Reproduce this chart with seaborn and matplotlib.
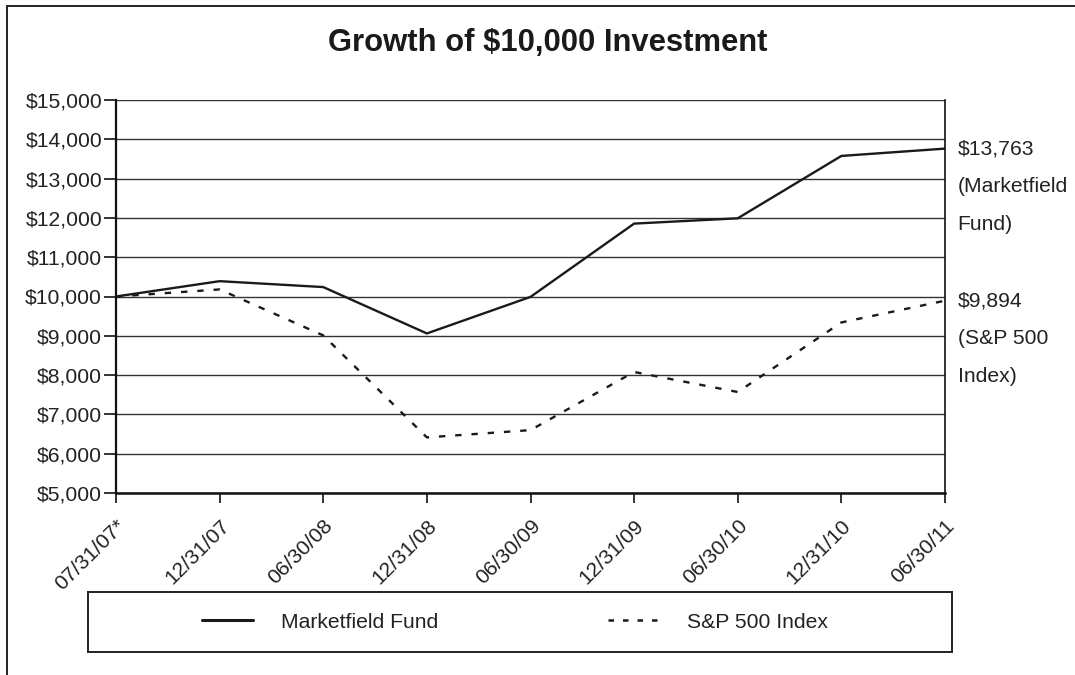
import matplotlib
matplotlib.use("Agg")
import matplotlib.pyplot as plt
from matplotlib.patches import Rectangle
from matplotlib.lines import Line2D
import seaborn as sns
import pandas as pd

dates = ["07/31/07*", "12/31/07", "06/30/08", "12/31/08", "06/30/09",
         "12/31/09", "06/30/10", "12/31/10", "06/30/11"]
fund = [10000, 10390, 10240, 9060, 9990, 11855, 11990, 13577, 13763]
sp500 = [10000, 10180, 9010, 6415, 6600, 8080, 7570, 9340, 9894]
series_names = ["Marketfield Fund", "S&P 500 Index"]
yticks = list(range(5000, 15001, 1000))
end_labels = [["$13,763", "(Marketfield", "Fund)"], ["$9,894", "(S&P 500", "Index)"]]

df = pd.DataFrame({
    "date": dates * 2,
    "value": fund + sp500,
    "series": [series_names[0]] * len(dates) + [series_names[1]] * len(dates),
})

sns.set_theme(style="white")
plt.rcParams["font.family"] = ["Liberation Sans", "DejaVu Sans"]

W, H = 1075, 675
FS = 15.2
fig = plt.figure(figsize=(W / 100, H / 100), dpi=100)
ax = fig.add_axes([116 / W, 1 - 493 / H, (945 - 116) / W, (493 - 100) / H])

sns.lineplot(data=df, x="date", y="value", hue="series", style="series",
             palette={series_names[0]: "#1a1a1a", series_names[1]: "#1a1a1a"},
             dashes={series_names[0]: "", series_names[1]: (2.7, 4.2)},
             linewidth=1.7, sort=False, ax=ax, legend=False)

ax.set_xlim(0, len(dates) - 1)
ax.set_ylim(5000, 15000)
ax.set_yticks(yticks)
ax.set_yticklabels([f"${v:,}" for v in yticks], fontsize=FS, color="#222222")
ax.set_xticks(range(len(dates)))
ax.set_xticklabels(dates, rotation=45, ha="right", rotation_mode="anchor",
                   fontsize=FS, color="#222222")
ax.set_xlabel("")
ax.set_ylabel("")
ax.yaxis.grid(True, color="#333333", linewidth=1.0)
ax.xaxis.grid(False)
ax.set_axisbelow(True)
for s in ["left", "bottom", "right"]:
    ax.spines[s].set_visible(True)
    ax.spines[s].set_color("#111111")
ax.spines["left"].set_linewidth(1.6)
ax.spines["bottom"].set_linewidth(1.8)
ax.spines["right"].set_linewidth(1.2)
ax.spines["top"].set_visible(False)
ax.tick_params(axis="y", direction="out", length=9, width=1.2, color="#111111", pad=1, left=True)
ax.tick_params(axis="x", direction="out", length=7.5, width=1.2, color="#111111", pad=9, bottom=True)

# end-of-line annotations
for vals, lines in zip([fund, sp500], end_labels):
    for i, txt in enumerate(lines):
        ax.annotate(txt, xy=(len(dates) - 1, vals[-1]), xycoords="data",
                    xytext=(9, -27.4 * i), textcoords="offset points",
                    ha="left", va="center", fontsize=FS, color="#222222",
                    annotation_clip=False)

# title
fig.text(548 / W, 1 - 43 / H, "Growth of $10,000 Investment", ha="center", va="center",
         fontsize=22.3, fontweight="bold", color="#1a1a1a")

# legend
handles = [Line2D([], [], color="#1a1a1a", lw=2.2, ls="-"),
           Line2D([], [], color="#1a1a1a", lw=1.8, ls=(0, (2.2, 3.6)))]
fig.legend(handles, series_names, loc="center", bbox_to_anchor=(515 / W, 1 - 622 / H),
           ncol=2, frameon=False, fontsize=FS, handlelength=2.4, handletextpad=1.35,
           columnspacing=8.0, labelcolor="#222222")
fig.patches.append(Rectangle((88 / W, 1 - 652 / H), (952 - 88) / W, (652 - 592) / H,
                             transform=fig.transFigure, fill=False, edgecolor="#222222",
                             linewidth=1.4))

# outer frame (top and left)
fig.add_artist(Line2D([7 / W, 1], [1 - 6 / H, 1 - 6 / H], transform=fig.transFigure,
                      color="#222222", lw=1.4))
fig.add_artist(Line2D([7 / W, 7 / W], [0, 1 - 6 / H], transform=fig.transFigure,
                      color="#222222", lw=1.4))

fig.savefig("out.png", dpi=100, facecolor="white")
